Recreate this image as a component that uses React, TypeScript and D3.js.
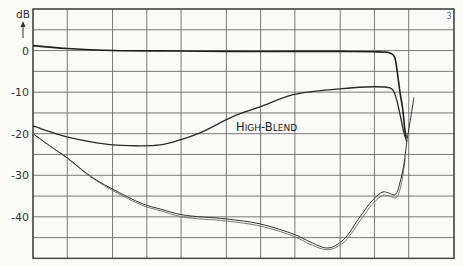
import React from "react";
import * as d3 from "d3";

const W = 463;
const H = 266;

// frequency grid lines (Hz) and dB grid
const freqGrid = [20, 40, 100, 200, 400, 1000, 2000, 4000, 10000, 20000, 40000, 100000];
const dbGrid = [10, 5, 0, -5, -10, -15, -20, -25, -30, -35, -40, -45, -50];
const dbLabels = [0, -10, -20, -30, -40];

// Curve A: frequency response (Hz, dB)
const respF = [20, 40, 100, 400, 1000, 4000, 10000, 20000, 26000, 28500, 30000, 31500, 33300, 35400, 36800, 38000];
const respDb = [1.2, 0.5, 0, -0.1, -0.2, -0.2, -0.2, -0.3, -0.4, -0.8, -1.5, -4.5, -9.5, -14, -18.5, -21];

// Curve B: High-Blend
const blendF = [20, 28, 39, 63, 100, 157, 261, 400, 587, 1140, 2000, 3850, 9900, 19700, 27400, 29200, 31300, 34000, 36100, 38400];
const blendDb = [-18.1, -19.5, -20.7, -21.9, -22.7, -22.9, -22.7, -21.4, -19.8, -15.9, -13.5, -10.6, -9.2, -8.7, -9.0, -9.6, -11.8, -16.1, -19.5, -21.9];

// Curve C: crosstalk, two channels
const xtF = [20, 28, 40, 63, 95, 185, 261, 407, 993, 1976, 4010, 5435, 7820, 10600, 14900, 19400, 23800, 26300, 30300, 34000, 36800, 38700, 41700, 44400];
const xtDb1 = [-20, -22.9, -25.8, -30.1, -33, -36.9, -38.1, -39.5, -40.5, -41.7, -44.3, -46, -47.5, -45.6, -40, -35.9, -34, -34.2, -34.7, -31.1, -26.3, -21.4, -16.1, -11.3];
const xtF2 = [20, 28, 40, 63, 95, 185, 261, 407, 993, 1976, 4010, 5435, 7820, 10600, 14900, 19400, 23800, 26800, 31000, 34600, 37200];
const xtDb2 = [-20, -22.9, -25.9, -30.2, -33.3, -37.3, -38.5, -40, -41, -42.2, -44.8, -46.6, -47.9, -46.3, -41, -36.8, -34.8, -35, -35.4, -31.8, -26];

export default function App() {
  const x = d3.scaleLog().domain([20, 100000]).range([33, 454]);
  const y = d3.scaleLinear().domain([10, -50]).range([9, 258.4]);
  const line = d3
    .line<[number, number]>()
    .x((d) => x(d[0]))
    .y((d) => y(d[1]))
    .curve(d3.curveCatmullRom.alpha(0.5));
  const zip = (f: number[], v: number[]) => f.map((d, i) => [d, v[i]] as [number, number]);

  return (
    <svg
      width={W}
      height={H}
      style={{ position: "absolute", left: 0, top: 0, background: "#fbfbfa" }}
      fontFamily="'DejaVu Sans', sans-serif"
    >
      <rect x={0} y={0} width={W} height={H} fill="#fbfbfa" />
      {freqGrid.map((f) => (
        <line key={"v" + f} x1={x(f)} x2={x(f)} y1={y(10)} y2={y(-50)} stroke="#6a6a6a" strokeWidth={0.9} />
      ))}
      {dbGrid.map((d) => (
        <line key={"h" + d} x1={x(20)} x2={x(100000)} y1={y(d)} y2={y(d)} stroke="#6a6a6a" strokeWidth={0.9} />
      ))}
      <rect
        x={x(20)}
        y={y(10)}
        width={x(100000) - x(20)}
        height={y(-50) - y(10)}
        fill="none"
        stroke="#444"
        strokeWidth={1.4}
      />
      {dbLabels.map((d) => (
        <text key={"l" + d} x={29} y={y(d) + 4} textAnchor="end" fontSize={11} fill="#333">
          {d === 0 ? "0" : "-" + Math.abs(d)}
        </text>
      ))}
      <text x={23} y={18} textAnchor="middle" fontSize={10.5} fill="#333">dB</text>
      <line x1={23} x2={23} y1={24} y2={38} stroke="#333" strokeWidth={1} />
      <path d="M20.5,27 L23,21 L25.5,27 Z" fill="#333" />
      <text x={449} y={19} textAnchor="middle" fontSize={8} fill="#666">3</text>

      <path d={line(zip(xtF2, xtDb2)) || ""} fill="none" stroke="#777" strokeWidth={1} />
      <path d={line(zip(xtF, xtDb1)) || ""} fill="none" stroke="#333" strokeWidth={1} />
      <path d={line(zip(blendF, blendDb)) || ""} fill="none" stroke="#2a2a2a" strokeWidth={1.3} />
      <path d={line(zip(respF, respDb)) || ""} fill="none" stroke="#1e1e1e" strokeWidth={1.6} />

      <text x={236} y={131} fontSize={11.5} fill="#222">
        H<tspan fontSize={9}>IGH</tspan>-B<tspan fontSize={9}>LEND</tspan>
      </text>
    </svg>
  );
}
